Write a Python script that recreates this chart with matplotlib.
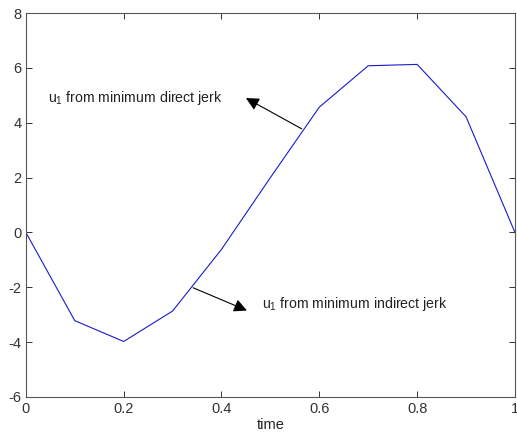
import matplotlib
matplotlib.use("Agg")
from matplotlib import pyplot as plt

# sampled u1 values
time = [0.0, 0.1, 0.2, 0.3, 0.4, 0.5, 0.6, 0.7, 0.8, 0.9, 1.0]
u1 = [0.0, -3.22, -3.98, -2.87, -0.62, 2.0, 4.57, 6.08, 6.13, 4.22, 0.0]

xticks = [0, 0.2, 0.4, 0.6, 0.8, 1]
xticklabels = ["0", "0.2", "0.4", "0.6", "0.8", "1"]
yticks = [-6, -4, -2, 0, 2, 4, 6, 8]

label_direct = "u$_1$ from minimum direct jerk"
label_indirect = "u$_1$ from minimum indirect jerk"


def main():
    plt.rcParams["font.family"] = ["Liberation Sans", "DejaVu Sans"]
    plt.rcParams["mathtext.fontset"] = "custom"
    plt.rcParams["mathtext.rm"] = "Liberation Sans"
    plt.rcParams["mathtext.it"] = "Liberation Sans"
    plt.rcParams["axes.unicode_minus"] = False

    fig = plt.figure(figsize=(5.17, 4.38), dpi=100)
    ax = fig.add_axes([0.050, 0.094, 0.946, 0.876])

    ax.plot(time, u1, color="#1a1acc", linewidth=0.8)

    ax.set_xlim(0, 1)
    ax.set_ylim(-6, 8)
    ax.set_xticks(xticks)
    ax.set_xticklabels(xticklabels)
    ax.set_yticks(yticks)
    ax.tick_params(direction="in", top=True, right=True, length=4,
                   labelsize=10.5, colors="#333333", width=0.7)
    ax.tick_params(axis="x", pad=4)
    ax.tick_params(axis="y", pad=3)
    for s in ax.spines.values():
        s.set_color("#555555")
        s.set_linewidth(0.8)
    ax.set_xlabel("time", fontsize=10.5, labelpad=1, color="#222222")

    # arrows + text
    astyle = "-|>,head_length=0.6,head_width=0.3"
    ax.annotate("", xy=(0.450, 4.90), xytext=(0.564, 3.78),
                arrowprops=dict(arrowstyle=astyle, color="black", lw=0.8,
                                mutation_scale=13, shrinkA=0, shrinkB=0))
    ax.text(0.045, 4.9, label_direct, fontsize=10.2, va="center", color="#222222")

    ax.annotate("", xy=(0.452, -2.85), xytext=(0.342, -2.02),
                arrowprops=dict(arrowstyle=astyle, color="black", lw=0.8,
                                mutation_scale=13, shrinkA=0, shrinkB=0))
    ax.text(0.483, -2.62, label_indirect, fontsize=10.2, va="center", color="#222222")

    fig.savefig("out.png", dpi=100)


if __name__ == "__main__":
    main()
